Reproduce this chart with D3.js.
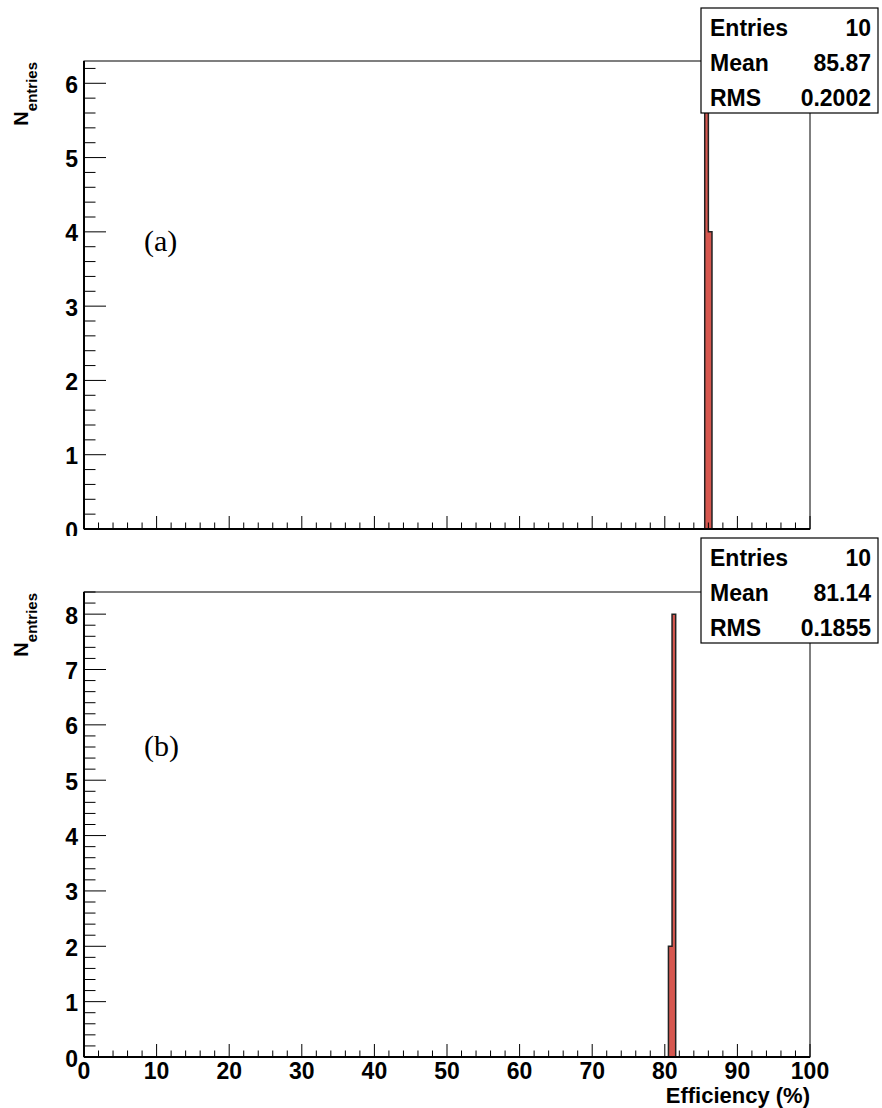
<!DOCTYPE html>
<html>
<head>
<meta charset="utf-8">
<script src="https://cdn.jsdelivr.net/npm/d3@7"></script>
<style>
  html, body { margin: 0; padding: 0; background: #fff; }
  svg { display: block; }
  text { font-family: "Liberation Sans", Arial, Helvetica, sans-serif; font-weight: bold; fill: #000; }
</style>
</head>
<body>
<svg id="chart" width="882" height="1108"></svg>
<script>
// ---------------- data ----------------
const binWidth = 0.5;
const binLowA = [85.5, 86.0];
const countsA = [6, 4];
const binLowB = [80.5, 81.0];
const countsB = [2, 8];

const statNames = ["Entries", "Mean", "RMS"];
const statValuesA = ["10", "85.87", "0.2002"];
const statValuesB = ["10", "81.14", "0.1855"];

const xTicks = [0, 10, 20, 30, 40, 50, 60, 70, 80, 90, 100];
const yTicksA = [0, 1, 2, 3, 4, 5, 6];
const yTicksB = [0, 1, 2, 3, 4, 5, 6, 7, 8];
const yMaxA = 6.3;
const yMaxB = 8.4;
const panelLabels = ["(a)", "(b)"];
const xTitle = "Efficiency (%)";
const yTitleMain = "N";
const yTitleSub = "entries";

// ---------------- layout ----------------
const svg = d3.select("#chart");
const left = 84, right = 810;
const barFill = "#d6574f";

const x = d3.scaleLinear().domain([0, 100]).range([left, right]);

const defs = svg.append("defs");
defs.append("clipPath").attr("id", "clipTop")
  .append("rect").attr("x", 0).attr("y", 0).attr("width", 882).attr("height", 536);

function drawPanel(g, opts) {
  const y = d3.scaleLinear().domain([0, opts.yMax]).range([opts.bottom, opts.top]);

  // frame
  g.append("rect").attr("x", left).attr("y", opts.top)
    .attr("width", right - left).attr("height", opts.bottom - opts.top)
    .attr("fill", "#fff").attr("stroke", "#000").attr("stroke-width", 1);

  // histogram fill + outline
  const pts = [];
  opts.lows.forEach((lo, i) => {
    pts.push([x(lo), y(opts.counts[i])]);
    pts.push([x(lo + binWidth), y(opts.counts[i])]);
  });
  const first = opts.lows[0];
  const last = opts.lows[opts.lows.length - 1] + binWidth;
  const poly = [[x(first), y(0)], ...pts, [x(last), y(0)]];
  g.append("path")
    .attr("d", d3.line()(poly) + "Z")
    .attr("fill", barFill)
    .attr("stroke", "#222")
    .attr("stroke-width", 1.5);

  // x axis ticks
  const xMinor = d3.range(0, 101, 2);
  g.append("g").selectAll("line").data(xMinor).join("line")
    .attr("x1", d => x(d)).attr("x2", d => x(d))
    .attr("y1", opts.bottom).attr("y2", d => opts.bottom - (d % 10 === 0 ? 13 : 6.5))
    .attr("stroke", "#000").attr("stroke-width", 1);

  // y axis ticks
  const yMinor = d3.range(0, Math.floor(opts.yMax * 5) + 1).map(i => i / 5);
  g.append("g").selectAll("line").data(yMinor).join("line")
    .attr("x1", left).attr("x2", d => left + (Math.abs(d - Math.round(d)) < 1e-6 ? 22 : 11.5))
    .attr("y1", d => y(d)).attr("y2", d => y(d))
    .attr("stroke", "#000").attr("stroke-width", 1);

  // axis lines
  g.append("line").attr("x1", left).attr("x2", right).attr("y1", opts.bottom).attr("y2", opts.bottom)
    .attr("stroke", "#000").attr("stroke-width", 2);
  g.append("line").attr("x1", left).attr("x2", left).attr("y1", opts.top).attr("y2", opts.bottom)
    .attr("stroke", "#000").attr("stroke-width", 2);

  // y tick labels
  g.append("g").selectAll("text").data(opts.yTicks).join("text")
    .attr("x", 78).attr("y", d => y(d) + 9.5)
    .attr("text-anchor", "end").attr("font-size", 23)
    .text(d => d);

  // x tick labels
  if (opts.showX) {
    g.append("g").selectAll("text").data(xTicks).join("text")
      .attr("x", d => x(d)).attr("y", opts.bottom + 22)
      .attr("text-anchor", "middle").attr("font-size", 23)
      .text(d => d);
    g.append("text").attr("x", right).attr("y", opts.bottom + 46)
      .attr("text-anchor", "end").attr("font-size", 22).text(xTitle);
  }

  // y title (rotated)
  const yt = g.append("text")
    .attr("transform", `translate(28, ${opts.top + 1}) rotate(-90)`)
    .attr("text-anchor", "end");
  yt.append("tspan").attr("font-size", 20).text(yTitleMain);
  yt.append("tspan").attr("font-size", 15).attr("dy", 9).text(yTitleSub);

  // panel label
  g.append("text").attr("x", 144).attr("y", opts.labelY)
    .style("font-family", "'Liberation Serif', 'Times New Roman', serif")
    .style("font-weight", "normal")
    .attr("font-size", 30).text(opts.label);

  // stats box
  const bx = 701, bw = 177, bh = 105;
  const sb = g.append("g");
  sb.append("rect").attr("x", bx).attr("y", opts.boxTop).attr("width", bw).attr("height", bh)
    .attr("fill", "#fff").attr("stroke", "#000").attr("stroke-width", 1.2);
  statNames.forEach((n, i) => {
    const ty = opts.boxTop + 28 + i * 35;
    sb.append("text").attr("x", bx + 9).attr("y", ty).attr("font-size", 23).text(n);
    sb.append("text").attr("x", bx + bw - 7).attr("y", ty).attr("text-anchor", "end")
      .attr("font-size", 23).text(opts.stats[i]);
  });
}

const gA = svg.append("g").attr("clip-path", "url(#clipTop)");
drawPanel(gA, {
  top: 61, bottom: 529, yMax: yMaxA, yTicks: yTicksA,
  lows: binLowA, counts: countsA, showX: false,
  label: panelLabels[0], labelY: 251, boxTop: 8, stats: statValuesA
});

const gB = svg.append("g");
drawPanel(gB, {
  top: 592, bottom: 1057, yMax: yMaxB, yTicks: yTicksB,
  lows: binLowB, counts: countsB, showX: true,
  label: panelLabels[1], labelY: 756, boxTop: 538, stats: statValuesB
});
</script>
</body>
</html>
